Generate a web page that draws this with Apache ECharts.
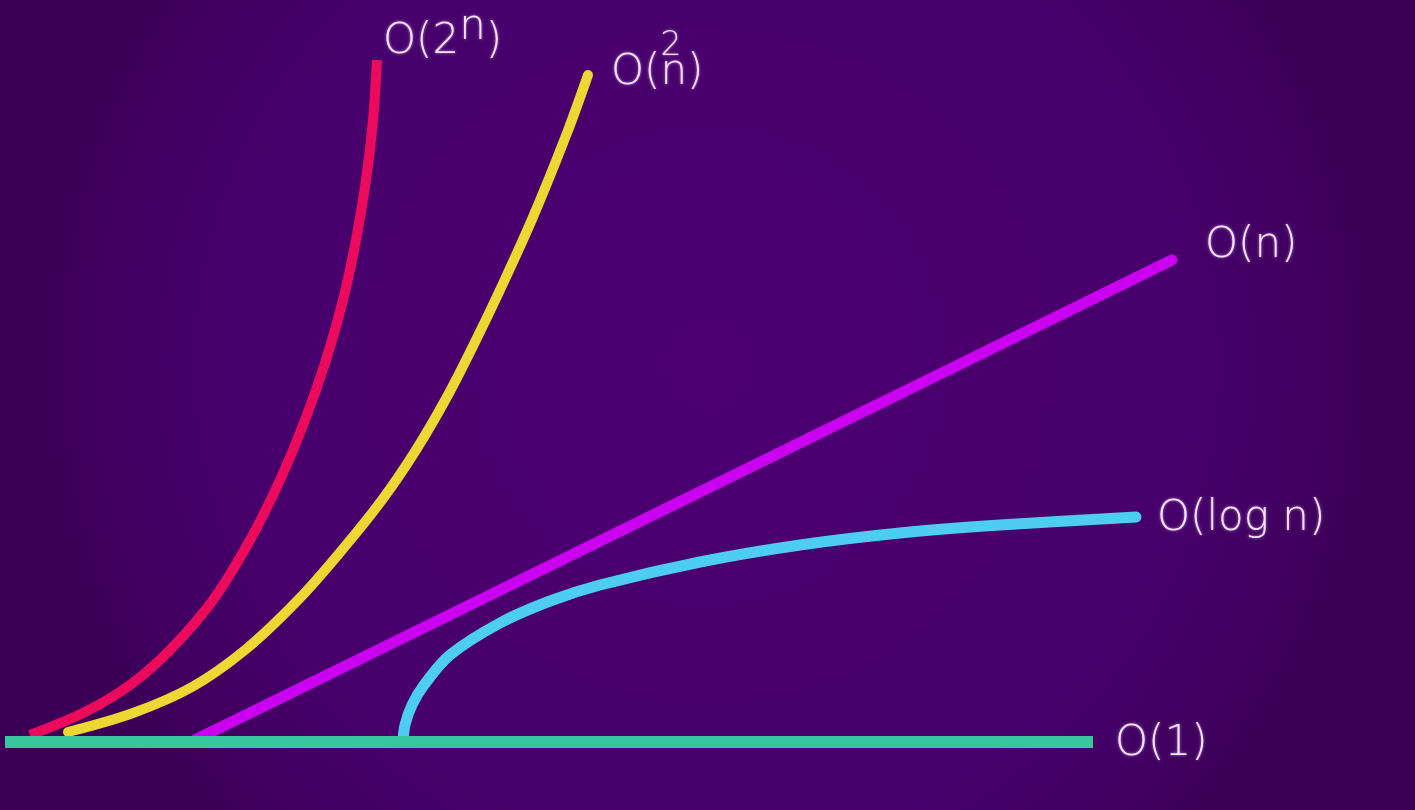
<!DOCTYPE html>
<html>
<head>
<meta charset="utf-8">
<script src="https://cdn.jsdelivr.net/npm/echarts@6/dist/echarts.min.js"></script>
<style>
html,body{margin:0;padding:0;width:1415px;height:810px;overflow:hidden;background:#45006a;}
#c{width:1415px;height:810px;}
</style>
</head>
<body>
<div id="c"></div>
<script>
// Schematic growth curves: [n, operations]
const seriesNames = ['O(2^n)', 'O(n^2)', 'O(n)', 'O(log n)', 'O(1)'];
const expData = [[30,75],[85,98],[130,125],[170,160],[213,210],[250,270],[280,330],[305,390],[326,450],[343,510],[356,570],[366,630],[373,690],[377,750]];
const quadData = [[68,78],[133,97],[192,123],[245,160],[298,210],[342,260],[382,310],[416,360],[448,415],[476,470],[500,520],[533,593],[567,677],[588,735]];
const linData = [[195,70],[1172,550]];
const logData = [[403,68],[405,85],[412,105],[424,125],[450,155],[500,187],[550,209],[600,225],[700,248],[800,265],[900,277],[1000,285],[1136,293]];
const constData = [[5,68],[1093,68]];
const xRange = [0, 1415];
const yRange = [0, 810];

const textColor = '#f4e6fa';
const FONT = 'DejaVu Sans';
const FS = 42;
const FW = 300;
const base = {fontFamily: FONT, fontSize: FS, fontWeight: FW, color: textColor, textShadowColor: 'rgba(220,160,255,0.8)', textShadowBlur: 3};
function lbl(extra){ return Object.assign({}, base, extra || {}); }

const chart = echarts.init(document.getElementById('c'), null, {renderer: 'canvas'});
function mk(name, data, color, width, cap, label, offset, rich){
  return {
    name: name, type: 'line', data: data, showSymbol: false, symbol: 'none',
    smooth: 0.35,
    lineStyle: {color: color, width: width, cap: cap, join: 'round'},
    endLabel: {show: true, formatter: label, distance: 0, offset: offset,
      rich: rich, fontFamily: FONT, fontSize: FS, fontWeight: FW, color: textColor,
      textShadowColor: 'rgba(220,160,255,0.8)', textShadowBlur: 3},
    emphasis: {disabled: true}, silent: true
  };
}
const option = {
  animation: false,
  backgroundColor: {type: 'radial', x: 0.5, y: 0.45, r: 0.85,
    colorStops: [{offset: 0, color: '#4c0070'}, {offset: 0.7, color: '#47006b'}, {offset: 1, color: '#3b0056'}]},
  grid: {left: 0, right: 0, top: 0, bottom: 0},
  xAxis: {type: 'value', min: xRange[0], max: xRange[1], show: false},
  yAxis: {type: 'value', min: yRange[0], max: yRange[1], show: false},
  series: [
    mk(seriesNames[0], expData, '#ec0a5c', 10, 'butt', '{a|O(2}{s|n}{a|)}', [6, -18],
      {a: lbl(), s: lbl({padding: [0, 0, 28, 0]})}),
    mk(seriesNames[1], quadData, '#ecd733', 10, 'round', '{a|O(}{z|2}{a|n)}', [23, -2],
      {a: lbl(), z: lbl({fontSize: 33, width: 0, padding: [0, 0, 54, 0]})}),
    mk(seriesNames[2], linData, '#cc00f0', 11, 'round', '{a|O(n)}', [33, -14], {a: lbl()}),
    mk(seriesNames[3], logData, '#4dcdf2', 11, 'round', '{a|O(log n)}', [21, 2], {a: lbl()}),
    mk(seriesNames[4], constData, '#36c79e', 12, 'butt', '{a|O(1)}', [22, 2], {a: lbl()})
  ]
};
chart.setOption(option);
</script>
</body>
</html>
